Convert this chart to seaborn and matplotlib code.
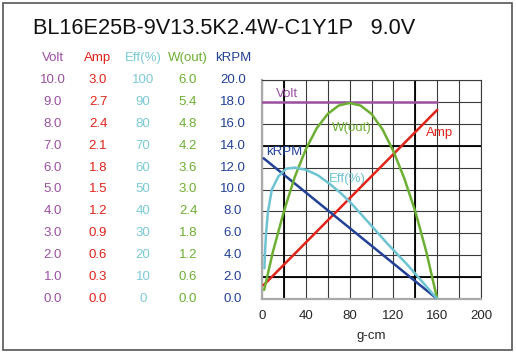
import numpy as np
import pandas as pd
import matplotlib
matplotlib.use("Agg")
import matplotlib.pyplot as plt
import matplotlib.transforms as mtrans
from matplotlib.patches import Rectangle
import seaborn as sns

# =============================
# data (torque in g-cm)

title = "BL16E25B-9V13.5K2.4W-C1Y1P   9.0V"

volt_torque = [0, 160]
volt = [9.0, 9.0]

amp_torque = [1.5, 160]
amp = [0.19, 2.59]

krpm_torque = [1.5, 160]
krpm = [12.85, 0.0]

wout_torque = [2, 10, 20, 30, 40, 50, 60, 70, 80, 90, 100, 110, 120, 130, 140, 150, 160]
wout = [0.25, 1.3, 2.4, 3.35, 4.1, 4.68, 5.07, 5.3, 5.37, 5.3, 5.07, 4.65, 4.05, 3.3, 2.4, 1.3, 0.0]

eff_torque = [2.2, 2.6, 3.7, 5.5, 9, 15, 22, 30, 40, 51, 62, 72, 80, 90, 102, 115, 133, 147, 160]
eff = [14, 20, 30, 40, 50, 56, 59.5, 60, 59, 56.5, 52.5, 48.3, 44.5, 39, 32.3, 25, 15.5, 7.5, 0]

col_names = ["Volt", "Amp", "Eff(%)", "W(out)", "kRPM"]
volt_labels = ["0.0", "1.0", "2.0", "3.0", "4.0", "5.0", "6.0", "7.0", "8.0", "9.0", "10.0"]
amp_labels = ["0.0", "0.3", "0.6", "0.9", "1.2", "1.5", "1.8", "2.1", "2.4", "2.7", "3.0"]
eff_labels = ["0", "10", "20", "30", "40", "50", "60", "70", "80", "90", "100"]
wout_labels = ["0.0", "0.6", "1.2", "1.8", "2.4", "3.0", "3.6", "4.2", "4.8", "5.4", "6.0"]
krpm_labels = ["0.0", "2.0", "4.0", "6.0", "8.0", "10.0", "12.0", "14.0", "16.0", "18.0", "20.0"]
x_ticks = [0, 40, 80, 120, 160, 200]

# full scale of each column (maps to 10 grid rows)
scales = {"Volt": 10.0, "Amp": 3.0, "Eff(%)": 100.0, "W(out)": 6.0, "kRPM": 20.0}
colors = {"Volt": "#9B50A0", "Amp": "#E2231A", "Eff(%)": "#6EC3D2", "W(out)": "#6DAF32", "kRPM": "#234196"}
text_colors = {"Volt": "#9B50A0", "Amp": "#E2231A", "Eff(%)": "#7CCAD6", "W(out)": "#6DAF32", "kRPM": "#234196"}

# =============================

sns.set_theme(style="white")
plt.rcParams["font.family"] = ["Liberation Sans", "DejaVu Sans"]

W, H = 516, 355
fig = plt.figure(figsize=(W / 100, H / 100), dpi=100)
fig.patch.set_facecolor("white")

# outer frame
fig.patches.append(Rectangle((3 / W, 1 - 350 / H), 509 / W, 347 / H, transform=fig.transFigure,
                             fill=False, edgecolor="#555555", linewidth=1.2))

fig.text(33 / W, 1 - 28 / H, title, fontsize=15.7, color="#111111", va="center", ha="left")

ax = fig.add_axes([262 / W, 1 - 299 / H, (481 - 262) / W, (299 - 80) / H])

series = [
    ("Volt", volt_torque, volt),
    ("Amp", amp_torque, amp),
    ("kRPM", krpm_torque, krpm),
    ("W(out)", wout_torque, wout),
    ("Eff(%)", eff_torque, eff),
]
for name, xs, ys in series:
    df = pd.DataFrame({"torque": xs, "value": np.array(ys) / scales[name] * 10})
    sns.lineplot(data=df, x="torque", y="value", color=colors[name], linewidth=1.8, ax=ax, zorder=5)

ax.set_xlim(0, 200)
ax.set_ylim(0, 10)
ax.set_xticks(np.arange(0, 201, 20))
ax.set_xticklabels([str(t) if t in x_ticks else "" for t in range(0, 201, 20)], fontsize=9.5)
ax.set_yticks(np.arange(0, 11, 1))
ax.set_yticklabels([])
ax.tick_params(length=0, pad=8)
ax.grid(True, color="#3a3a3a", linewidth=0.8)
for v in [20, 140]:
    ax.axvline(v, color="black", linewidth=1.3, zorder=2)
for v in [1, 7]:
    ax.axhline(v, color="black", linewidth=1.3, zorder=2)
ax.set_xlabel("g-cm", fontsize=9.5, labelpad=6)
ax.set_ylabel("")
for s in ["left", "bottom"]:
    ax.spines[s].set_color("#aaaaaa")
    ax.spines[s].set_linewidth(1.6)
for s in ["top", "right"]:
    ax.spines[s].set_color("#3a3a3a")
    ax.spines[s].set_linewidth(0.8)

# curve labels
ax.text(23, 9.35, "Volt", color=colors["Volt"], fontsize=9.5, ha="center", va="center")
ax.text(82, 7.8, "W(out)", color=colors["W(out)"], fontsize=9.5, ha="center", va="center")
ax.text(162, 7.6, "Amp", color=colors["Amp"], fontsize=9.5, ha="center", va="center")
ax.text(20, 6.7, "kRPM", color=colors["kRPM"], fontsize=9.5, ha="center", va="center")
ax.text(78, 5.5, "Eff(%)", color=colors["Eff(%)"], fontsize=9.5, ha="center", va="center")

# left value columns
blend = mtrans.blended_transform_factory(fig.transFigure, ax.transData)
col_x = [53, 98, 143, 188, 233]
col_labels = [volt_labels, amp_labels, eff_labels, wout_labels, krpm_labels]
for cx, name, labels in zip(col_x, col_names, col_labels):
    fig.text(cx / W, 1 - 58 / H, name, color=text_colors[name], fontsize=9.5, ha="center", va="center")
    for i, lab in enumerate(labels):
        ax.text(cx / W, i, lab, transform=blend, color=text_colors[name], fontsize=9.5,
                ha="center", va="center", clip_on=False)

fig.savefig("out.png", dpi=100)
